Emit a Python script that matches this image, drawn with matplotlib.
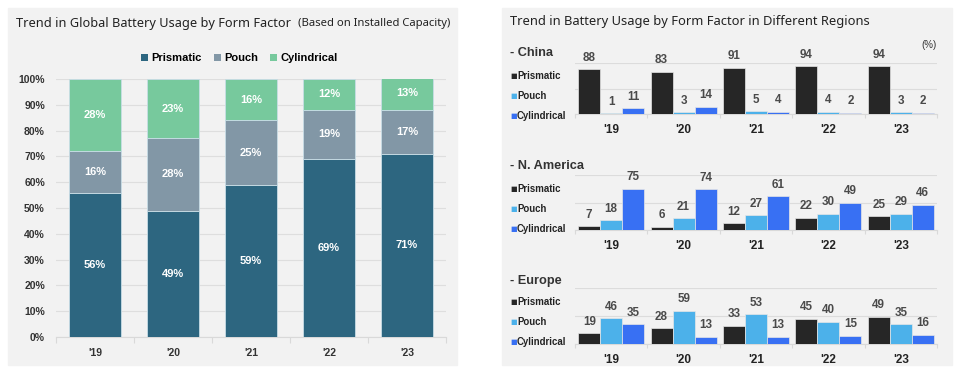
import matplotlib.pyplot as plt
import numpy as np
from matplotlib.patches import Rectangle

## Data

years = ["'19", "'20", "'21", "'22", "'23"]
forms = ["Prismatic", "Pouch", "Cylindrical"]

# global share (%)
glob_prismatic = [56, 49, 59, 69, 71]
glob_pouch = [16, 28, 25, 19, 17]
glob_cylindrical = [28, 23, 16, 12, 13]

# regional share (%)
china_prismatic = [88, 83, 91, 94, 94]
china_pouch = [1, 3, 5, 4, 3]
china_cylindrical = [11, 14, 4, 2, 2]

na_prismatic = [7, 6, 12, 22, 25]
na_pouch = [18, 21, 27, 30, 29]
na_cylindrical = [75, 74, 61, 49, 46]

eu_prismatic = [19, 28, 33, 45, 49]
eu_pouch = [46, 59, 53, 40, 35]
eu_cylindrical = [35, 13, 13, 15, 16]

regions = ["- China", "- N. America", "- Europe"]

## Figure setup

W, H = 960, 373
fig = plt.figure(figsize=(W / 100, H / 100), dpi=100)
fig.patch.set_facecolor('white')

def fx(px):
    return px / W

def fy(py):
    return (H - py) / H

panel_bg = '#f2f2f2'
fig.patches.append(Rectangle((fx(8), fy(365)), fx(457) - fx(8), fy(8) - fy(365),
                             transform=fig.transFigure, color=panel_bg, zorder=-10))
fig.patches.append(Rectangle((fx(502), fy(365)), fx(952) - fx(502), fy(8) - fy(365),
                             transform=fig.transFigure, color=panel_bg, zorder=-10))

title_font = 'Noto Sans'
body_font = 'Liberation Sans'

##--------------------------------------------------------------------------------------------------------------##
## Left panel : global stacked bars

fig.text(fx(16), fy(23), 'Trend in Global Battery Usage by Form Factor', fontsize=9.2,
         family=title_font, fontweight='medium', va='center', ha='left', color='#222222')
fig.text(fx(298), fy(23.5), '(Based on Installed Capacity)', fontsize=8.1,
         family=title_font, fontweight='medium', va='center', ha='left', color='#222222')

axL = fig.add_axes([fx(56), fy(337), fx(446) - fx(56), fy(79) - fy(337)])
axL.set_facecolor('none')
x = np.arange(len(years))
glob_colors = ['#2d6680', '#8297a6', '#77c99d']
glob_series = [glob_prismatic, glob_pouch, glob_cylindrical]
bottom = np.zeros(len(years))
handles = []
for name, vals, c in zip(forms, glob_series, glob_colors):
    b = axL.bar(x, vals, 0.66, bottom=bottom, color=c, edgecolor='#c8dde6',
                linewidth=0.6, label=name, zorder=3)
    handles.append(b)
    for xi, v, b0 in zip(x, vals, bottom):
        axL.text(xi, b0 + v / 2, f'{v}%', ha='center', va='center', color='white',
                 fontsize=8, fontweight='bold', family=body_font, zorder=4)
    bottom += np.array(vals)

axL.set_xlim(-0.5, 4.5)
axL.set_ylim(0, 100)
axL.set_yticks(range(0, 101, 10))
axL.set_yticklabels([f'{v}%' for v in range(0, 101, 10)])
axL.set_xticks(x)
axL.set_xticklabels(years)
axL.set_xticks(np.arange(-0.5, 5, 1), minor=True)
axL.tick_params(axis='x', which='major', length=0, pad=8)
axL.tick_params(axis='x', which='minor', length=4, color='#d9d9d9', width=0.8)
axL.tick_params(axis='y', length=0, pad=8)
for lbl in axL.get_xticklabels() + axL.get_yticklabels():
    lbl.set_fontweight('bold')
    lbl.set_family(body_font)
    lbl.set_fontsize(7.5)
    lbl.set_color('#333333')
axL.grid(axis='y', color='#dedede', linewidth=0.8, zorder=0)
for s in ['left', 'right', 'top']:
    axL.spines[s].set_visible(False)
axL.spines['bottom'].set_color('#d9d9d9')

leg = axL.legend(handles=handles, loc='center', bbox_to_anchor=(0.47, 1.081), ncol=3,
                 frameon=False, handlelength=0.6, handleheight=0.6, handletextpad=0.3,
                 columnspacing=1.1, prop={'family': body_font, 'weight': 'bold', 'size': 8})
for p in leg.get_patches():
    p.set_edgecolor('none')

##--------------------------------------------------------------------------------------------------------------##
## Right panel : regional grouped bars

fig.text(fx(510), fy(21), 'Trend in Battery Usage by Form Factor in Different Regions', fontsize=9.3,
         family=title_font, fontweight='medium', va='center', ha='left', color='#222222')
fig.text(fx(937), fy(45), '(%)', fontsize=7, family=body_font, ha='right', va='center',
         color='#333333')

reg_colors = ['#262626', '#4cb1ea', '#3870f3']
reg_data = [
    [china_prismatic, china_pouch, china_cylindrical],
    [na_prismatic, na_pouch, na_cylindrical],
    [eu_prismatic, eu_pouch, eu_cylindrical],
]
# baseline / 100% pixel rows, region label row, legend rows
base_px = [114, 230, 344]
top_px = [63, 175, 288]
label_px = [53, 166, 281]
legend_px = [[76, 96, 116], [189, 209, 229], [302, 322, 342]]

bw = 0.304
for r in range(3):
    ax = fig.add_axes([fx(575), fy(base_px[r]), fx(937) - fx(575), fy(top_px[r]) - fy(base_px[r])])
    ax.set_facecolor('none')
    for k, (vals, c) in enumerate(zip(reg_data[r], reg_colors)):
        pos = x + (k - 1) * bw
        ax.bar(pos, vals, bw, color=c, edgecolor='#e6e6e6', linewidth=0.5, zorder=3)
        for xi, v in zip(pos, vals):
            ax.annotate(str(v), (xi, v), xytext=(0, 4), textcoords='offset points',
                        ha='center', va='bottom', fontsize=8.4, color='#4a4a4a',
                        family=body_font, fontweight='bold', annotation_clip=False)
    ax.set_xlim(-0.5, 4.5)
    ax.set_ylim(0, 100)
    ax.set_yticks([0, 50, 100])
    ax.set_yticklabels([])
    ax.tick_params(axis='y', length=0)
    ax.grid(axis='y', color='#dcdcdc', linewidth=0.8, zorder=0)
    ax.set_xticks(x)
    ax.set_xticklabels(years)
    ax.set_xticks(np.arange(-0.5, 5, 1), minor=True)
    ax.tick_params(axis='x', which='major', length=0, pad=7)
    ax.tick_params(axis='x', which='minor', length=3, color='#d9d9d9', width=0.8)
    for lbl in ax.get_xticklabels():
        lbl.set_fontweight('bold')
        lbl.set_family(body_font)
        lbl.set_fontsize(8.5)
        lbl.set_color('#222222')
    for s in ['left', 'right', 'top']:
        ax.spines[s].set_visible(False)
    ax.spines['bottom'].set_color('#d9d9d9')

    fig.text(fx(510), fy(label_px[r]), regions[r], fontsize=9.2, family=body_font,
             fontweight='bold', ha='left', va='center', color='#333333')
    for name, c, py in zip(forms, reg_colors, legend_px[r]):
        fig.text(fx(510), fy(py), '■', fontsize=5, color=c, ha='left', va='center',
                 family='DejaVu Sans')
        fig.text(fx(517), fy(py), name, fontsize=6.9, color='#222222', ha='left', va='center',
                 family=body_font, fontweight='bold')

fig.savefig('out.png', dpi=100)
